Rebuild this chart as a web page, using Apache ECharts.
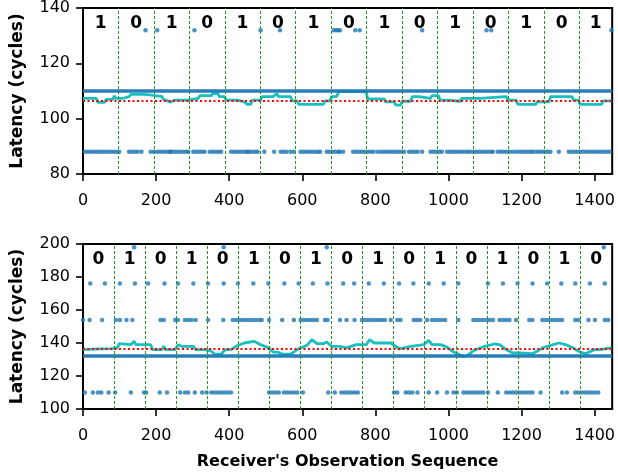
<!DOCTYPE html>
<html><head><meta charset="utf-8">
<script src="https://cdn.jsdelivr.net/npm/echarts@6/dist/echarts.min.js"></script>
<style>html,body{margin:0;padding:0;background:#fff}#c{width:618px;height:473px}</style>
</head><body><div id="c"></div>
<script>
// ---------- data ----------
const xTicks = [0, 200, 400, 600, 800, 1000, 1200, 1400];
const xMax = 1448;
// top panel
const topBits = [1,0,1,0,1,0,1,0,1,0,1,0,1,0,1];
const topSwitch = [97,194,291,388,485,582,679,776,873,970,1067,1164,1261,1358];
const topThreshold = 110;
const topMean = 106.5;
const topLowLevel = 88;
const topLowX = [5,13,21,29,37,45,53,61,69,77,85,93,99,126,134,142,150,160,185,194,203,211,219,227,235,239,243,251,259,267,275,283,288,302,310,318,326,333,347,355,363,371,378,405,413,421,429,437,445,450,455,463,471,478,496,523,541,549,557,568,577,595,603,611,619,627,635,643,649,667,675,683,691,699,703,712,739,747,755,763,771,779,787,795,806,815,823,831,839,847,855,863,871,879,892,900,908,916,928,951,959,967,975,982,996,1004,1012,1020,1028,1036,1044,1052,1059,1068,1076,1084,1092,1100,1108,1116,1122,1135,1143,1151,1159,1167,1176,1185,1193,1201,1209,1217,1225,1230,1239,1247,1255,1263,1271,1279,1302,1329,1337,1345,1353,1361,1369,1377,1385,1393,1401,1409,1417,1425,1433,1441];
const topHighLevel = 132;
const topHighX = [171,203,305,486,539,686,692,698,703,745,757,928,1104,1117,1446];
const topAvgX = [0,36,41,59,64,81,86,90,108,112,126,131,167,172,189,194,216,220,225,240,250,288,292,315,320,351,355,369,373,387,392,423,428,441,450,459,463,486,490,520,530,535,568,572,586,590,658,662,676,680,694,700,752,775,779,824,828,851,856,869,873,897,901,919,924,951,955,973,977,996,1000,1032,1036,1086,1090,1158,1162,1185,1190,1239,1243,1275,1280,1338,1342,1356,1360,1419,1423,1446];
const topAvgY = [107.3,107.3,105.9,105.9,107,107,108.2,107.3,107.3,108,108,108.8,108.8,108.5,108.5,108,108,107,106.7,106,106.7,106.7,107.3,107.3,108.3,108.3,109.1,109.1,108,108,106.7,106.7,106.1,106.1,105.2,105.2,106.7,106.7,108,108,109,108,108,106.4,106.4,105.2,105.2,106.4,106.4,108,108,109.8,109.8,109.7,107.1,107.1,106.1,106.1,104.9,104.9,106.3,106.3,108,108,107.3,107.3,108.3,108.3,106.7,106.7,106.3,106.3,107.3,107.3,108,108,106.7,106.7,105.2,105.2,106.1,106.1,108,108,106.7,106.7,105.2,105.2,106.4,106.4];
// bottom panel
const botBits = [0,1,0,1,0,1,0,1,0,1,0,1,0,1,0,1,0];
const botSwitch = [85,170,255,340,425,510,595,680,765,850,935,1020,1105,1190,1275,1360];
const botThreshold = 132;
const botMean = 136.3;
const bot198X = [140,385,667,1425];
const bot176X = [20,60,101,142,178,223,260,302,342,385,424,466,507,551,590,629,669,712,742,782,823,865,904,946,987,1027,1108,1149,1189,1230,1270,1309,1347,1387,1428];
const bot154X = [0,18,52,90,101,119,135,212,221,252,260,279,288,297,308,342,384,410,419,428,437,446,455,464,473,482,489,509,545,577,595,604,613,622,631,640,662,669,703,721,743,763,772,781,790,799,808,817,826,842,860,869,905,914,923,942,955,964,973,982,991,1027,1068,1077,1086,1095,1104,1113,1122,1140,1149,1158,1167,1185,1221,1230,1257,1266,1275,1284,1293,1302,1311,1347,1356,1383,1401,1428,1437];
const bot110X = [5,27,41,50,70,88,131,167,173,210,230,266,279,288,306,326,338,351,360,369,378,387,396,405,509,518,527,536,550,559,568,577,586,602,671,689,707,716,725,734,743,752,851,860,883,892,901,915,946,969,996,1014,1023,1041,1050,1059,1068,1077,1086,1095,1108,1135,1158,1167,1176,1185,1194,1203,1212,1221,1230,1252,1311,1324,1347,1356,1365,1374,1383,1392,1401,1410];
const botAvgX = [0,45,81,95,99,131,140,145,185,190,216,221,226,252,261,270,302,308,333,351,360,378,390,405,419,441,468,486,509,520,532,545,568,586,613,626,640,658,667,680,703,721,748,775,784,797,842,865,897,933,946,955,978,996,1014,1041,1050,1068,1099,1126,1140,1158,1176,1194,1230,1261,1302,1320,1338,1356,1374,1400,1415,1446];
const botAvgY = [136,136.5,136.6,137.4,139.6,139,141,139,139,136,136,138,136,136,139,138,138,136,136,135,133.3,133.3,136,136,138,140,141,139,137,134.5,134.5,133.3,133.3,136,138.6,142,139.6,139.6,140.6,138,138,137,139,139,142,140,140,136.5,138,139,141.6,139,139,137.5,134.5,131.9,132,135.3,138,139.4,139,136,134,134,133.5,137.4,140,139,137.4,135,133.5,136,136,137];

// ---------- styles ----------
const FONT = 'DejaVu Sans';
const BLUE = '#1f77b4', CYAN = '#17bfbf', GREEN = '#1e9a1e', RED = '#ff0000';
const pts = (xs, y) => xs.map(x => [x, y]);
const zip = (xs, ys) => xs.map((x, i) => [x, ys[i]]);
function segments(bits, sw) {
  const b = [0].concat(sw, [xMax]);
  return bits.map((v, i) => [{ xAxis: b[i], name: String(v) }, { xAxis: b[i + 1] }]);
}
function xAxisCfg(gi, withName) {
  return {
    type: 'value', gridIndex: gi, min: 0, max: xMax, interval: 200,
    splitLine: { show: false },
    axisLine: { show: true, onZero: false, lineStyle: { color: '#000', width: 2 } },
    axisTick: { show: true, length: 7, lineStyle: { color: '#000', width: 1.6 } },
    axisLabel: { color: '#000', fontSize: 16, fontFamily: FONT, margin: 19, showMaxLabel: false,
      formatter: v => String(v) },
    name: withName ? "Receiver's Observation Sequence" : '',
    nameLocation: 'middle', nameGap: 45,
    nameTextStyle: { color: '#000', fontSize: 16, fontWeight: 'bold', fontFamily: FONT }
  };
}
function yAxisCfg(gi, min, max) {
  return {
    type: 'value', gridIndex: gi, min: min, max: max, interval: 20,
    splitLine: { show: false },
    axisLine: { show: true, onZero: false, lineStyle: { color: '#000', width: 2 } },
    axisTick: { show: true, length: 7, lineStyle: { color: '#000', width: 1.6 } },
    axisLabel: { color: '#000', fontSize: 16, fontFamily: FONT, margin: 13, formatter: v => String(v) },
    name: 'Latency (cycles)', nameLocation: 'middle', nameGap: 57,
    nameTextStyle: { color: '#000', fontSize: 17, fontWeight: 'bold', fontFamily: FONT }
  };
}
function panelSeries(gi, scatterSets, avgX, avgY, thr, mean, sw, bits) {
  const s = [];
  scatterSets.forEach(d => s.push({
    type: 'scatter', xAxisIndex: gi, yAxisIndex: gi, data: d, symbolSize: 4.5,
    itemStyle: { color: BLUE }, z: 2, silent: true
  }));
  s.push({
    type: 'line', xAxisIndex: gi, yAxisIndex: gi, data: [], z: 3, silent: true,
    markLine: { symbol: 'none', silent: true, label: { show: false }, animation: false,
      lineStyle: { color: BLUE, width: 3.5, type: 'solid', opacity: 0.95 }, data: [{ yAxis: thr }] }
  });
  s.push({
    type: 'line', xAxisIndex: gi, yAxisIndex: gi, data: zip(avgX, avgY), z: 4, silent: true,
    showSymbol: false, lineStyle: { color: CYAN, width: 2.8 }, itemStyle: { color: CYAN }
  });
  s.push({
    type: 'line', xAxisIndex: gi, yAxisIndex: gi, data: [], z: 5, silent: true,
    markLine: { symbol: 'none', silent: true, label: { show: false }, animation: false,
      lineStyle: { color: RED, width: 2, type: [2, 2.5] }, data: [{ yAxis: mean }] }
  });
  s.push({
    type: 'line', xAxisIndex: gi, yAxisIndex: gi, data: [], z: 6, silent: true,
    markLine: { symbol: 'none', silent: true, label: { show: false }, animation: false,
      lineStyle: { color: GREEN, width: 1, type: [3, 2] }, data: sw.map(x => ({ xAxis: x })) },
    markArea: { silent: true, itemStyle: { color: 'rgba(0,0,0,0)' },
      label: { show: true, position: 'insideTop', distance: 7, color: '#000',
        fontSize: 17, fontWeight: 'bold', fontFamily: FONT },
      data: segments(bits, sw) }
  });
  return s;
}

const chart = echarts.init(document.getElementById('c'), null, { renderer: 'canvas' });
chart.setOption({
  animation: false,
  backgroundColor: '#fff',
  grid: [
    { left: 83, top: 8, width: 534, height: 166, show: true, borderColor: '#000', borderWidth: 2, backgroundColor: 'transparent' },
    { left: 83, top: 244, width: 534, height: 165, show: true, borderColor: '#000', borderWidth: 2, backgroundColor: 'transparent' }
  ],
  xAxis: [xAxisCfg(0, false), xAxisCfg(1, true)],
  yAxis: [yAxisCfg(0, 80, 140), yAxisCfg(1, 100, 200)],
  series: [].concat(
    panelSeries(0, [pts(topLowX, topLowLevel), pts(topHighX, topHighLevel)], topAvgX, topAvgY, topThreshold, topMean, topSwitch, topBits),
    panelSeries(1, [pts(bot110X, 110), pts(bot154X, 154), pts(bot176X, 176), pts(bot198X, 198)], botAvgX, botAvgY, botThreshold, botMean, botSwitch, botBits)
  )
});
</script></body></html>
